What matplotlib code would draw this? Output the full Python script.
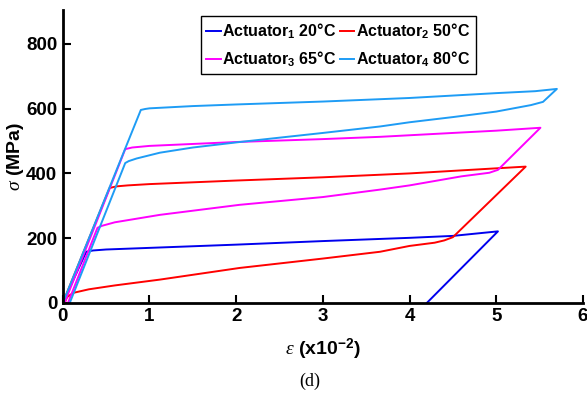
import matplotlib
matplotlib.use("Agg")
import matplotlib.pyplot as plt

# stress-strain loops (strain in x10^-2, stress in MPa)
x_act1 = [0.0, 0.27, 0.35, 0.5, 1.0, 2.0, 3.0, 4.0, 4.5, 5.02, 4.2]
y_act1 = [0, 158, 162, 165, 170, 180, 191, 201, 207, 221, 0]

x_act2 = [0.0, 0.54, 0.62, 0.75, 1.0, 2.0, 3.0, 4.0, 5.34, 4.5, 4.4, 4.29, 4.0,
          3.66, 3.0, 2.04, 1.12, 0.6, 0.3, 0.12, 0.05, 0.02]
y_act2 = [0, 355, 360, 363, 367, 378, 388, 400, 421, 203, 193, 186, 176,
          158, 137, 108, 72, 54, 42, 31, 18, 0]

x_act3 = [0.02, 0.72, 0.8, 1.0, 2.0, 3.0, 3.66, 4.5, 5.0, 5.51, 5.02, 4.92, 4.6,
          4.0, 3.66, 3.0, 2.04, 1.12, 0.6, 0.45, 0.40, 0.06]
y_act3 = [0, 475, 480, 485, 497, 506, 513, 525, 532, 541, 411, 402, 391,
          363, 350, 327, 303, 272, 249, 238, 232, 0]

x_act4 = [0.0, 0.9, 0.95, 1.0, 1.5, 2.0, 3.0, 4.0, 5.0, 5.45, 5.70, 5.54, 5.4,
          5.0, 4.5, 4.0, 3.66, 3.0, 2.04, 1.5, 1.12, 0.85, 0.76, 0.72, 0.08]
y_act4 = [0, 596, 599, 601, 608, 613, 622, 633, 648, 654, 661, 621, 611,
          591, 574, 558, 545, 525, 497, 480, 464, 446, 438, 432, 0]

labels = [r"Actuator$_\mathbf{1}$ 20°C", r"Actuator$_\mathbf{2}$ 50°C",
          r"Actuator$_\mathbf{3}$ 65°C", r"Actuator$_\mathbf{4}$ 80°C"]
colors = ["#0000ee", "#ff0000", "#ff00ff", "#1e9cf5"]

x_ticks = [0, 1, 2, 3, 4, 5, 6]
y_ticks = [0, 200, 400, 600, 800]

plt.rcParams["font.family"] = "Liberation Sans"
plt.rcParams["font.weight"] = "bold"
plt.rcParams["axes.labelweight"] = "bold"
plt.rcParams["mathtext.fontset"] = "custom"
plt.rcParams["mathtext.rm"] = "Liberation Sans:bold"
plt.rcParams["mathtext.bf"] = "Liberation Sans:bold"
plt.rcParams["mathtext.it"] = "Liberation Serif:italic:normal"

fig = plt.figure(figsize=(5.87, 3.97), dpi=100)
ax = fig.add_axes([0.107, 0.237, 0.886, 0.738])

series = [(x_act1, y_act1), (x_act2, y_act2), (x_act3, y_act3), (x_act4, y_act4)]
handles = []
for (xs, ys), lab, c in zip(series, labels, colors):
    h, = ax.plot(xs, ys, color=c, lw=1.4, label=lab)
    handles.append(h)

ax.set_xlim(0, 6)
ax.set_ylim(0, 905)
ax.set_xticks(x_ticks)
ax.set_yticks(y_ticks)
ax.tick_params(direction="in", length=6, width=1.5, labelsize=13.5, pad=4)
for s in ["top", "right"]:
    ax.spines[s].set_visible(False)
for s in ["left", "bottom"]:
    ax.spines[s].set_linewidth(2)

ax.set_ylabel(r"$\sigma$ (MPa)", fontsize=14, labelpad=0)
ax.set_xlabel(r"$\epsilon$ (x10$^{\mathbf{-2}}$)", fontsize=14, labelpad=8)
fig.text(0.528, 0.04, "(d)", family="Liberation Serif", weight="normal",
         fontsize=13, ha="center", va="center")

# matplotlib fills legend columns first; reorder so rows read 1-2 / 3-4
order = [0, 2, 1, 3]
leg = ax.legend([handles[i] for i in order], [labels[i] for i in order],
                ncol=2, loc="upper left", bbox_to_anchor=(0.25, 1.005),
                fontsize=11.5, handlelength=0.9, handletextpad=0.1,
                columnspacing=0.2, borderpad=0.35, labelspacing=0.5,
                fancybox=False, edgecolor="black", framealpha=1)
leg.get_frame().set_linewidth(1)

fig.savefig("out.png", dpi=100)
